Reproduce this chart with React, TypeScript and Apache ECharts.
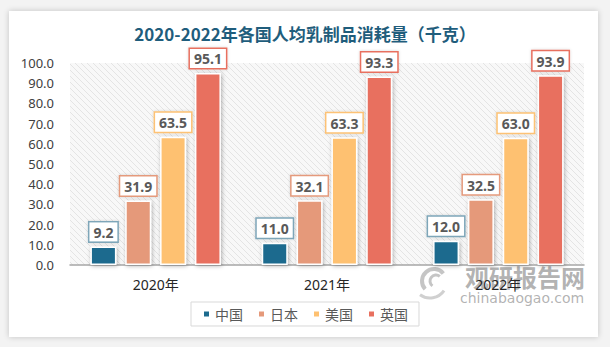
import React, { useEffect, useRef } from "react";
import * as echarts from "echarts";

const categories = ["2020年", "2021年", "2022年"];
const seriesNames = ["中国", "日本", "美国", "英国"];
const chinaValues = [9.2, 11.0, 12.0];
const japanValues = [31.9, 32.1, 32.5];
const usaValues = [63.5, 63.3, 63.0];
const ukValues = [95.1, 93.3, 93.9];
const seriesColors = ["#1c6b8e", "#e5997a", "#fec171", "#e8705f"];
const labelBorderColors = ["#7ea6b9", "#e59a7c", "#fdc274", "#e8705f"];
const titleText = "2020-2022年各国人均乳制品消耗量（千克）";

function makeHatch(): HTMLCanvasElement {
  const c = document.createElement("canvas");
  c.width = 6;
  c.height = 6;
  const ctx = c.getContext("2d")!;
  ctx.fillStyle = "#f8f8f8";
  ctx.fillRect(0, 0, 6, 6);
  ctx.strokeStyle = "#e4e4e4";
  ctx.lineWidth = 1;
  ctx.beginPath();
  ctx.moveTo(0, 0);
  ctx.lineTo(6, 6);
  ctx.moveTo(-3, 3);
  ctx.lineTo(3, 9);
  ctx.moveTo(3, -3);
  ctx.lineTo(9, 3);
  ctx.stroke();
  return c;
}

export default function App() {
  const ref = useRef<HTMLDivElement>(null);

  useEffect(() => {
    if (!ref.current) return;
    const chart = echarts.init(ref.current, undefined, { renderer: "svg" });
    const allValues = [chinaValues, japanValues, usaValues, ukValues];
    const font = "'Noto Sans', 'Noto Sans CJK SC', sans-serif";
    const option: any = {
      animation: false,
      backgroundColor: "transparent",
      textStyle: { fontFamily: font },
      title: {
        text: titleText,
        left: "center",
        top: 20,
        textStyle: {
          fontSize: 17,
          fontWeight: "bold",
          color: "#1f5d7c",
          fontFamily: "'Noto Sans CJK SC', sans-serif",
        },
      },
      grid: {
        left: 70,
        right: 26,
        top: 63,
        bottom: 82,
        show: true,
        borderWidth: 0,
        backgroundColor: { image: makeHatch(), repeat: "repeat" },
      },
      legend: {
        data: seriesNames,
        left: "center",
        top: 302,
        icon: "rect",
        itemWidth: 7,
        itemHeight: 7,
        itemGap: 14,
        padding: [5, 11],
        borderColor: "#d9d9d9",
        borderWidth: 1,
        backgroundColor: "#ffffff",
        textStyle: {
          fontSize: 14,
          color: "#595959",
          fontFamily: "'Noto Sans CJK SC', sans-serif",
        },
      },
      xAxis: {
        type: "category",
        data: categories,
        axisLine: { lineStyle: { color: "#a6a6a6", width: 1.5 } },
        axisTick: { show: false },
        axisLabel: {
          fontSize: 14,
          color: "#262626",
          margin: 12,
          fontFamily: font,
        },
      },
      yAxis: {
        type: "value",
        min: 0,
        max: 100,
        interval: 10,
        axisLine: { show: false },
        axisTick: { show: false },
        splitLine: { show: false },
        axisLabel: {
          fontSize: 13,
          color: "#404040",
          margin: 16,
          formatter: (v: number) => v.toFixed(1),
        },
      },
      series: seriesNames.map((name, i) => ({
        name,
        type: "bar",
        data: allValues[i],
        barWidth: 26,
        barGap: "34%",
        itemStyle: {
          color: seriesColors[i],
          borderColor: "#ffffff",
          borderWidth: 1.5,
          shadowBlur: 4,
          shadowColor: "rgba(0,0,0,0.3)",
          shadowOffsetX: 1,
          shadowOffsetY: 1,
        },
        label: {
          show: true,
          position: "top",
          distance: 5,
          formatter: (p: any) => Number(p.value).toFixed(1),
          fontSize: 14,
          fontWeight: "bold",
          color: "#595959",
          backgroundColor: "#ffffff",
          borderColor: labelBorderColors[i],
          borderWidth: 1.5,
          padding: [3, 4, 2, 4],
          shadowBlur: 3,
          shadowColor: "rgba(0,0,0,0.15)",
        },
      })),
      graphic: [
        {
          type: "group",
          silent: true,
          children: [
            {
              type: "arc",
              shape: { cx: 434, cy: 281, r: 12, startAngle: 2.4, endAngle: 5.6 },
              style: { stroke: "rgba(150,150,150,0.55)", lineWidth: 4, fill: "none" },
            },
            {
              type: "arc",
              shape: { cx: 436, cy: 281, r: 6, startAngle: 2.2, endAngle: 5.4 },
              style: { stroke: "rgba(150,150,150,0.55)", lineWidth: 3, fill: "none" },
            },
            {
              type: "arc",
              shape: { cx: 430, cy: 281, r: 17, startAngle: 0.6, endAngle: 2.2 },
              style: { stroke: "rgba(150,150,150,0.45)", lineWidth: 3, fill: "none" },
            },
            {
              type: "text",
              left: 465,
              top: 264,
              style: {
                text: "观研报告网",
                font: "bold 24px 'Noto Sans CJK SC', sans-serif",
                fill: "rgba(128,128,128,0.6)",
              },
            },
            {
              type: "text",
              left: 460,
              top: 291,
              style: {
                text: "chinabaogao.com",
                font: "14px 'DejaVu Sans', sans-serif",
                fill: "rgba(128,128,128,0.6)",
              },
            },
          ],
        },
      ],
    };
    chart.setOption(option);
    return () => chart.dispose();
  }, []);

  return (
    <div
      style={{
        position: "fixed",
        left: 0,
        top: 0,
        width: 610,
        height: 347,
        background: "#f3f3f3",
        overflow: "hidden",
      }}
    >
      <div
        style={{
          position: "absolute",
          left: 9,
          top: 11,
          width: 589,
          height: 326,
          background: "#ffffff",
          boxShadow: "0 0 6px rgba(0,0,0,0.2)",
        }}
      />
      <div
        ref={ref}
        style={{ position: "absolute", left: 0, top: 0, width: 610, height: 347 }}
      />
    </div>
  );
}
